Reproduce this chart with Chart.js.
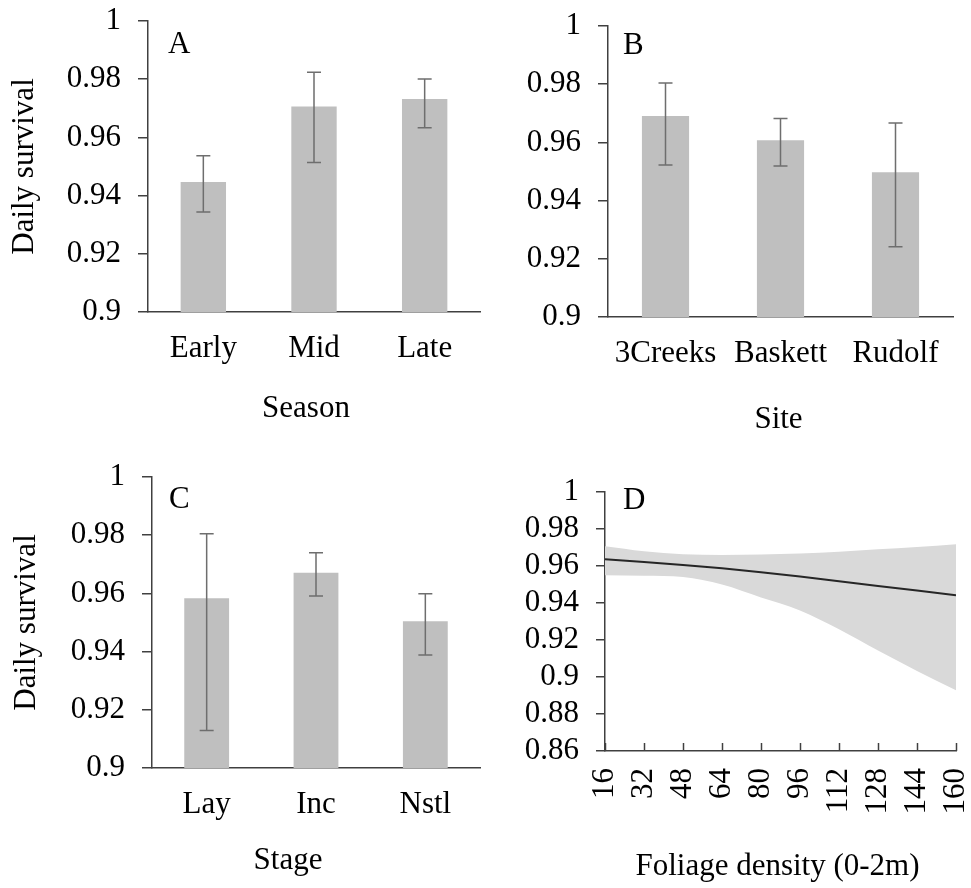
<!DOCTYPE html>
<html>
<head>
<meta charset="utf-8">
<script src="https://cdn.jsdelivr.net/npm/chart.js@4.4.1/dist/chart.umd.min.js"></script>
<style>
  html, body { margin: 0; padding: 0; background: #fff; }
  #wrap { position: relative; width: 971px; height: 888px; }
  #wrap canvas { position: absolute; }
</style>
</head>
<body>
<div id="wrap">
  <canvas id="panelA" width="486" height="440" style="left:0;top:0"></canvas>
  <canvas id="panelB" width="485" height="440" style="left:486px;top:0"></canvas>
  <canvas id="panelC" width="486" height="448" style="left:0;top:440px"></canvas>
  <canvas id="panelD" width="485" height="448" style="left:486px;top:440px"></canvas>
</div>
<script>
// A - season
const seasonLabels = ['Early', 'Mid', 'Late'];
const seasonSurvival = [0.9447, 0.9706, 0.9732];
const seasonLower = [0.9344, 0.9514, 0.9633];
const seasonUpper = [0.9537, 0.9824, 0.9801];

// B - site
const siteLabels = ['3Creeks', 'Baskett', 'Rudolf'];
const siteSurvival = [0.9691, 0.9607, 0.9497];
const siteLower = [0.9522, 0.9519, 0.9241];
const siteUpper = [0.9804, 0.9682, 0.9667];

// C - nest stage
const stageLabels = ['Lay', 'Inc', 'Nstl'];
const stageSurvival = [0.9583, 0.9671, 0.9504];
const stageLower = [0.9129, 0.9591, 0.9388];
const stageUpper = [0.9805, 0.9740, 0.9599];

// D - foliage density, fitted line with confidence band
const foliageDensity = [16, 32, 48, 64, 80, 96, 112, 128, 144, 160];
const foliageSurvival = [0.9637, 0.9622, 0.9606, 0.9588, 0.9566, 0.9543, 0.9517, 0.9492, 0.9467, 0.9442];
const foliageUpper = [0.9707, 0.9680, 0.9664, 0.9660, 0.9662, 0.9667, 0.9677, 0.9690, 0.9703, 0.9718];
const foliageLower = [0.9550, 0.9547, 0.9540, 0.9500, 0.9430, 0.9360, 0.9258, 0.9143, 0.9033, 0.8929];

const FONT = "'Liberation Serif', 'Times New Roman', serif";
const AXIS = '#404040';

Chart.defaults.font.family = FONT;
Chart.defaults.font.size = 31;
Chart.defaults.color = '#000';

function fmt(v) {
    return String(parseFloat(Number(v).toFixed(2)));
}

function zip(xs, ys) {
    return xs.map(function (x, i) { return { x: x, y: ys[i] }; });
}

// the axes keep exactly the size we give them, no extra label padding
function fixHeight(h) {
    return function (s) {
        s.height = h;
        s.paddingLeft = 0;
        s.paddingRight = 0;
    };
}

function fixWidth(w) {
    return function (s) {
        s.width = w;
        s.paddingTop = 0;
        s.paddingBottom = 0;
    };
}

const errorBars = {
    id: 'errorBars',
    afterDatasetsDraw(chart, args, opts) {
        if (!opts.lower) {
            return;
        }
        const ctx = chart.ctx;
        const y = chart.scales.y;
        const meta = chart.getDatasetMeta(0);
        ctx.save();
        ctx.strokeStyle = '#6e6e6e';
        ctx.lineWidth = 1.5;
        meta.data.forEach(function (bar, i) {
            const lo = y.getPixelForValue(opts.lower[i]);
            const hi = y.getPixelForValue(opts.upper[i]);
            ctx.beginPath();
            ctx.moveTo(bar.x, lo);
            ctx.lineTo(bar.x, hi);
            ctx.moveTo(bar.x - 7, lo);
            ctx.lineTo(bar.x + 7, lo);
            ctx.moveTo(bar.x - 7, hi);
            ctx.lineTo(bar.x + 7, hi);
            ctx.stroke();
        });
        ctx.restore();
    }
};

const panelLetter = {
    id: 'panelLetter',
    afterDraw(chart, args, opts) {
        if (!opts.text) {
            return;
        }
        const ctx = chart.ctx;
        const area = chart.chartArea;
        ctx.save();
        ctx.font = '31px ' + FONT;
        ctx.fillStyle = '#000';
        ctx.textBaseline = 'alphabetic';
        ctx.fillText(opts.text, area.left + opts.dx, area.top + opts.dy);
        ctx.restore();
    }
};

// x axis caption, placed a bit off-centre like the original figure
const xCaption = {
    id: 'xCaption',
    afterDraw(chart, args, opts) {
        if (!opts.text) {
            return;
        }
        const ctx = chart.ctx;
        const area = chart.chartArea;
        ctx.save();
        ctx.font = '31px ' + FONT;
        ctx.fillStyle = '#000';
        ctx.textAlign = 'center';
        ctx.textBaseline = 'alphabetic';
        ctx.fillText(opts.text, (area.left + area.right) / 2 + opts.dx, area.bottom + opts.dy);
        ctx.restore();
    }
};

// tick marks pointing into the plot (panel D x axis)
const innerTicks = {
    id: 'innerTicks',
    afterDatasetsDraw(chart, args, opts) {
        if (!opts.length) {
            return;
        }
        const ctx = chart.ctx;
        const x = chart.scales.x;
        const bottom = chart.chartArea.bottom;
        ctx.save();
        ctx.strokeStyle = AXIS;
        ctx.lineWidth = 1.5;
        x.ticks.forEach(function (t, i) {
            const px = Math.round(x.getPixelForTick(i)) + 0.5;
            ctx.beginPath();
            ctx.moveTo(px, bottom);
            ctx.lineTo(px, bottom - opts.length);
            ctx.stroke();
        });
        ctx.restore();
    }
};

function yTitle(text, pad) {
    if (!text) {
        return { display: false };
    }
    return { display: true, text: text, color: '#000', padding: { top: pad, bottom: 0 } };
}

function barPanel(id, cfg) {
    return new Chart(document.getElementById(id), {
        type: 'bar',
        data: {
            labels: cfg.labels,
            datasets: [{
                data: cfg.values,
                backgroundColor: '#bfbfbf',
                barPercentage: 0.41,
                categoryPercentage: 1,
            }],
        },
        options: {
            responsive: false,
            animation: false,
            layout: { padding: cfg.padding },
            plugins: {
                legend: { display: false },
                tooltip: { enabled: false },
                errorBars: { lower: cfg.lower, upper: cfg.upper },
                panelLetter: cfg.letter,
                xCaption: cfg.caption,
            },
            scales: {
                x: {
                    grid: { display: false, drawTicks: false },
                    border: { color: AXIS, width: 1.5 },
                    ticks: { padding: 18, color: '#000' },
                    afterFit: fixHeight(cfg.xHeight),
                },
                y: {
                    min: 0.9,
                    max: 1,
                    ticks: { stepSize: 0.02, padding: 17, color: '#000', autoSkip: false, callback: fmt },
                    grid: { drawOnChartArea: false, drawTicks: true, tickLength: 10, color: AXIS, lineWidth: 1.5 },
                    border: { color: AXIS, width: 1.5 },
                    title: yTitle(cfg.yTitle, cfg.yTitlePad),
                    afterFit: fixWidth(cfg.yWidth),
                },
            },
        },
        plugins: [errorBars, panelLetter, xCaption],
    });
}

barPanel('panelA', {
    labels: seasonLabels, values: seasonSurvival, lower: seasonLower, upper: seasonUpper,
    padding: { top: 21, right: 6, left: 0, bottom: 0 },
    yWidth: 148, xHeight: 128,
    yTitle: 'Daily survival', yTitlePad: 6,
    letter: { text: 'A', dx: 20, dy: 32 },
    caption: { text: 'Season', dx: -8, dy: 105 },
});

barPanel('panelB', {
    labels: siteLabels, values: siteSurvival, lower: siteLower, upper: siteUpper,
    padding: { top: 26, right: 18, left: 0, bottom: 0 },
    yWidth: 122, xHeight: 123,
    yTitle: null,
    letter: { text: 'B', dx: 15, dy: 28 },
    caption: { text: 'Site', dx: -2, dy: 111 },
});

barPanel('panelC', {
    labels: stageLabels, values: stageSurvival, lower: stageLower, upper: stageUpper,
    padding: { top: 37, right: 6, left: 0, bottom: 0 },
    yWidth: 152, xHeight: 120,
    yTitle: 'Daily survival', yTitlePad: 8,
    letter: { text: 'C', dx: 17, dy: 31 },
    caption: { text: 'Stage', dx: -28, dy: 101 },
});

new Chart(document.getElementById('panelD'), {
    type: 'line',
    data: {
        datasets: [
            {
                data: zip(foliageDensity, foliageSurvival),
                borderColor: '#262626',
                borderWidth: 2,
                pointRadius: 0,
                tension: 0,
                fill: false,
            },
            {
                data: zip(foliageDensity, foliageUpper),
                borderWidth: 0,
                pointRadius: 0,
                backgroundColor: '#d9d9d9',
                cubicInterpolationMode: 'monotone',
                fill: '+1',
            },
            {
                data: zip(foliageDensity, foliageLower),
                borderWidth: 0,
                pointRadius: 0,
                cubicInterpolationMode: 'monotone',
                fill: false,
            },
        ],
    },
    options: {
        responsive: false,
        animation: false,
        layout: { padding: { top: 52, right: 15, left: 0, bottom: 0 } },
        plugins: {
            legend: { display: false },
            tooltip: { enabled: false },
            panelLetter: { text: 'D', dx: 18, dy: 17 },
            innerTicks: { length: 8 },
            xCaption: { text: 'Foliage density (0-2m)', dx: -3, dy: 124 },
        },
        scales: {
            x: {
                type: 'linear',
                min: 16,
                max: 160,
                grid: { display: false, drawTicks: false },
                border: { color: AXIS, width: 1.5 },
                ticks: { stepSize: 16, minRotation: 90, maxRotation: 90, autoSkip: false, padding: 17, color: '#000' },
                afterFit: fixHeight(137),
            },
            y: {
                min: 0.86,
                max: 1,
                ticks: { stepSize: 0.02, padding: 17, color: '#000', autoSkip: false, callback: fmt },
                grid: { drawOnChartArea: false, drawTicks: true, tickLength: 9, color: AXIS, lineWidth: 1.5 },
                border: { color: AXIS, width: 1.5 },
                afterFit: fixWidth(119),
            },
        },
    },
    plugins: [panelLetter, innerTicks, xCaption],
});
</script>
</body>
</html>
